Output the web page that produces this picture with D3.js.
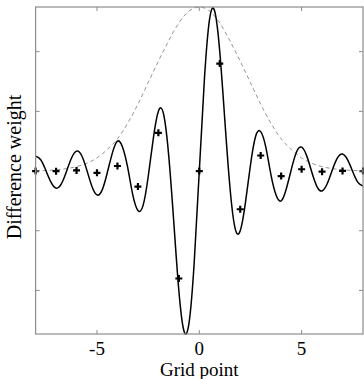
<!DOCTYPE html>
<html>
<head>
<meta charset="utf-8">
<script src="https://cdn.jsdelivr.net/npm/d3@7"></script>
<style>
  body { margin: 0; background: #fff; }
  svg { display: block; }
  text { font-family: "Liberation Serif", "Times New Roman", serif; fill: #000; }
</style>
</head>
<body>
<svg id="chart" width="364" height="379"></svg>
<script>
// continuous curve, sampled every 0.25 (x >= 0 side, the curve is odd)
var curveX = [0, 0.25, 0.5, 0.75, 1, 1.25, 1.5, 1.75, 2, 2.25, 2.5, 2.75, 3, 3.25, 3.5, 3.75, 4,
              4.25, 4.5, 4.75, 5, 5.25, 5.5, 5.75, 6, 6.25, 6.5, 6.75, 7, 7.25, 7.5, 7.75, 8];
var curveY = [0, 0.77, 1.27, 1.34, 1.0, 0.42, -0.14, -0.48, -0.5, -0.27, 0.05, 0.29, 0.33, 0.2, -0.03, -0.2, -0.25,
              -0.15, 0.016, 0.16, 0.2, 0.127, -0.01, -0.13, -0.167, -0.107, 0.008, 0.11, 0.143, 0.093, -0.006, -0.095, -0.125];

// weights at grid points 0..8 (odd)
var gridX = [0, 1, 2, 3, 4, 5, 6, 7, 8];
var gridW = [0, 0.9, -0.32, 0.13, -0.042, 0.015, -0.005, 0.001, 0];

// dashed envelope (even)
var envX = [0, 0.5, 1, 1.5, 2, 2.5, 3, 3.5, 4, 4.5, 5, 5.5, 6, 6.5, 7, 7.5, 8];
var envY = [1.374, 1.34, 1.24, 1.09, 0.92, 0.74, 0.56, 0.40, 0.27, 0.18, 0.11, 0.065, 0.037, 0.02, 0.01, 0.005, 0.002];

var xTicks = [-5, 0, 5];
var yTicks = [-1, -0.5, 0, 0.5, 1];

function mirrorOdd(xs, ys) {
    var pts = [];
    for (var i = xs.length - 1; i > 0; i--) pts.push([-xs[i], -ys[i]]);
    for (var j = 0; j < xs.length; j++) pts.push([xs[j], ys[j]]);
    return pts;
}
function mirrorEven(xs, ys) {
    var pts = [];
    for (var i = xs.length - 1; i > 0; i--) pts.push([-xs[i], ys[i]]);
    for (var j = 0; j < xs.length; j++) pts.push([xs[j], ys[j]]);
    return pts;
}

// plot box (note: "top" is reserved on window, so use other names)
var pLeft = 35.6, pRight = 363, pTop = 7, pBottom = 334;

var svg = d3.select("#chart");

var x = d3.scaleLinear().domain([-8, 8]).range([pLeft, pRight]);
var y = d3.scaleLinear().domain([-1.365, 1.374]).range([pBottom, pTop]);

svg.append("clipPath").attr("id", "clip")
    .append("rect").attr("x", pLeft).attr("y", pTop - 1)
    .attr("width", pRight - pLeft).attr("height", pBottom - pTop + 2);

var plot = svg.append("g").attr("clip-path", "url(#clip)");

var line = d3.line()
    .x(function (d) { return x(d[0]); })
    .y(function (d) { return y(d[1]); })
    .curve(d3.curveNatural);

// dashed envelope
plot.append("path")
    .datum(mirrorEven(envX, envY))
    .attr("fill", "none")
    .attr("stroke", "#8a8a8a")
    .attr("stroke-width", 0.9)
    .attr("stroke-dasharray", "4,3")
    .attr("d", line);

// solid curve
plot.append("path")
    .datum(mirrorOdd(curveX, curveY))
    .attr("fill", "none")
    .attr("stroke", "#000")
    .attr("stroke-width", 1.5)
    .attr("d", line);

// plus markers
var pts = mirrorOdd(gridX, gridW);
var s = 3.5;
svg.append("g").selectAll("path")
    .data(pts)
    .enter()
    .append("path")
    .attr("d", function (d) {
        var cx = x(d[0]), cy = y(d[1]);
        return "M" + (cx - s) + "," + cy + "H" + (cx + s) + "M" + cx + "," + (cy - s) + "V" + (cy + s);
    })
    .attr("stroke", "#000")
    .attr("stroke-width", 2.2);

// frame and ticks
var frameColor = "#8c8c8c";
svg.append("rect")
    .attr("x", pLeft).attr("y", pTop)
    .attr("width", pRight - pLeft).attr("height", pBottom - pTop)
    .attr("fill", "none").attr("stroke", frameColor).attr("stroke-width", 1.2);

var tickLen = 4;
var gAxes = svg.append("g").attr("stroke", frameColor).attr("stroke-width", 1);
xTicks.forEach(function (t) {
    gAxes.append("line").attr("x1", x(t)).attr("x2", x(t)).attr("y1", pBottom).attr("y2", pBottom - tickLen);
    gAxes.append("line").attr("x1", x(t)).attr("x2", x(t)).attr("y1", pTop).attr("y2", pTop + tickLen);
});
yTicks.forEach(function (t) {
    gAxes.append("line").attr("y1", y(t)).attr("y2", y(t)).attr("x1", pLeft).attr("x2", pLeft + tickLen);
    gAxes.append("line").attr("y1", y(t)).attr("y2", y(t)).attr("x1", pRight).attr("x2", pRight - tickLen);
});

// tick labels
svg.append("g").selectAll("text")
    .data(xTicks)
    .enter()
    .append("text")
    .attr("x", function (d) { return x(d); })
    .attr("y", 355)
    .attr("text-anchor", "middle")
    .attr("font-size", 19)
    .text(function (d) { return d; });

svg.append("text")
    .attr("x", x(0))
    .attr("y", 376)
    .attr("text-anchor", "middle")
    .attr("font-size", 19)
    .text("Grid point");

svg.append("text")
    .attr("transform", "translate(21,167) rotate(-90)")
    .attr("text-anchor", "middle")
    .attr("font-size", 20)
    .text("Difference weight");
</script>
</body>
</html>
